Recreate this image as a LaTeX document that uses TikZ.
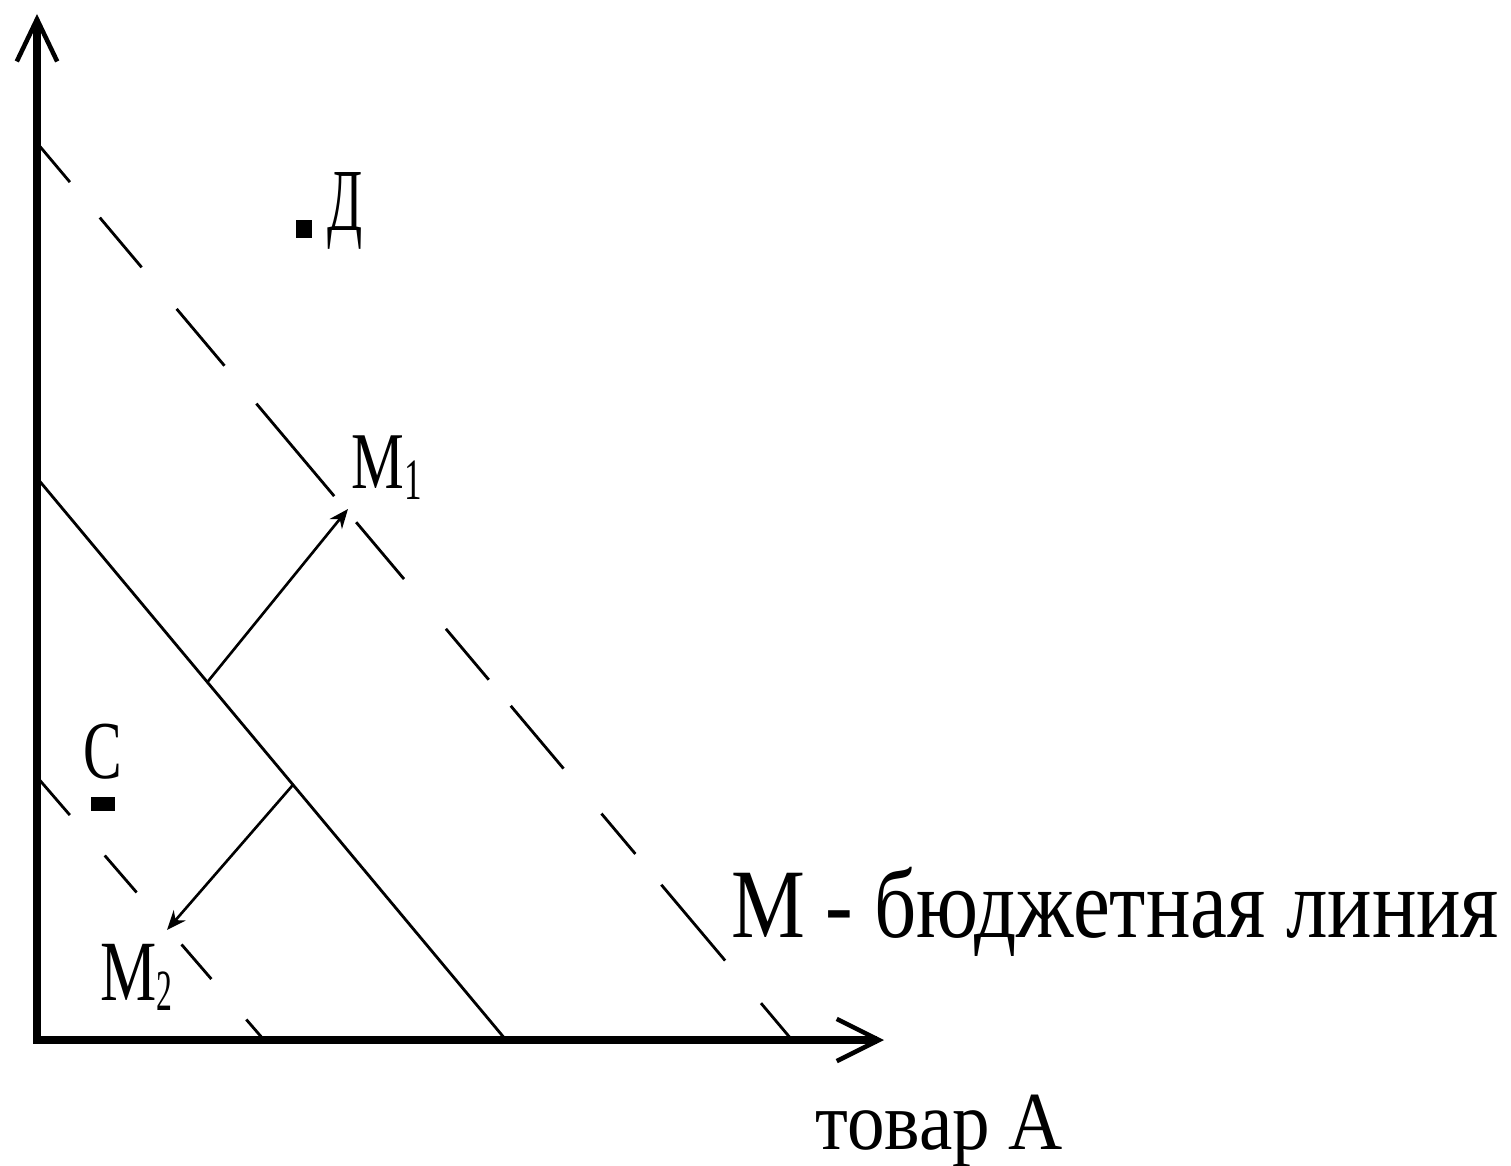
\documentclass[tikz,border=0pt]{standalone}
\usepackage{fontspec}
\usepackage{graphicx}
\setmainfont{Liberation Serif}
\usetikzlibrary{arrows.meta,calc}
\newcommand{\fitbox}[3]{\resizebox{#1}{#2}{#3}}
\begin{document}
\begin{tikzpicture}[x=0.02cm,y=-0.02cm,
  axisline/.style={line width=4.5pt,
    {Straight Barb[length=24pt,width=23pt,line width=2.6pt]}-{Straight Barb[length=24pt,width=24pt,line width=2.6pt]}},
  budget/.style={line width=1.6pt},
  upperdash/.style={line width=1.6pt, dash pattern=on 29.1pt off 26.4pt on 37pt off 30.9pt on 42.3pt off 28.2pt on 68.8pt off 19.4pt on 42.3pt off 37pt on 37.9pt off 19.4pt on 46.7pt off 33.5pt on 30pt off 22.9pt on 56.4pt off 31.7pt on 60pt off 10pt},
  lowerdash/.style={line width=1.6pt, dash pattern=on 28.6pt off 30.4pt on 27.8pt off 39.1pt on 26pt off 30.4pt on 40pt off 10pt},
  shiftarrow/.style={line width=1.5pt, -{Stealth[length=11pt,width=9pt]}},
  lbl/.style={inner sep=0pt, anchor=base west, font=\fontsize{40}{40}\selectfont},
  dotmark/.style={fill=black, inner sep=0pt}]
\fill[white] (0,0) rectangle (1511,1166);
\useasboundingbox (0,0) rectangle (1511,1166);

% axes
\coordinate (ytop) at (37,14);
\coordinate (O) at (37,1040);
\coordinate (xend) at (884,1040);

% budget lines
\coordinate (B0a) at (37,478);
\coordinate (B0b) at (506,1040);
\coordinate (B1a) at (37,143);
\coordinate (B1b) at (792,1040);
\coordinate (B2a) at (37,777);
\coordinate (B2b) at (264,1040);

\draw[budget] (B0a) -- (B0b);
\draw[upperdash] (B1a) -- (B1b);
\draw[lowerdash] (B2a) -- (B2b);
\draw[axisline] (ytop) -- (O) -- (xend);

% shift arrows
\coordinate (J1) at ($(B0a)!0.3632!(B0b)$);
\coordinate (T1) at (348,509);
\coordinate (J2) at ($(B0a)!0.5459!(B0b)$);
\coordinate (T2) at (167,930);
\draw[shiftarrow] (J1) -- (T1);
\draw[shiftarrow] (J2) -- (T2);

% points
\node[dotmark, minimum width=9pt, minimum height=10pt] (dotD) at (304,229) {};
\node[lbl] (labD) at (327,230) {\fitbox{20pt}{33pt}{Д}};
\node[dotmark, minimum width=14pt, minimum height=8.5pt] (dotC) at (103,804) {};
\node[lbl] (labC) at (83,778) {\fitbox{22pt}{31pt}{С}};

% line labels
\node[lbl] (labM1) at (351,488) {\fitbox{30pt}{30pt}{М}\raisebox{-6.8pt}{\fitbox{10pt}{22pt}{1}}};
\node[lbl] (labM2) at (100,1000) {\fitbox{32pt}{32pt}{М}\raisebox{-5.7pt}{\fitbox{9pt}{22pt}{2}}};

\node[lbl] (legend) at (731,937) {\fitbox{437pt}{40pt}{М - бюджетная линия}};
\node[lbl] (xlabel) at (815,1149) {\fitbox{141pt}{31pt}{товар А}};
\end{tikzpicture}
\end{document}
